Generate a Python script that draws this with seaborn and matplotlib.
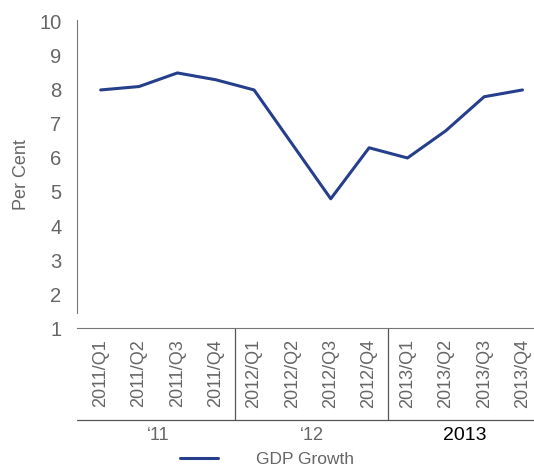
import numpy as np
import pandas as pd
import seaborn as sns
from matplotlib import pyplot as plt

quarters = ["2011/Q1", "2011/Q2", "2011/Q3", "2011/Q4",
            "2012/Q1", "2012/Q2", "2012/Q3", "2012/Q4",
            "2013/Q1", "2013/Q2", "2013/Q3", "2013/Q4"]
gdp_growth = [8.0, 8.1, 8.5, 8.3, 8.0, 6.4, 4.8, 6.3, 6.0, 6.8, 7.8, 8.0]
year_labels = ["\u201811", "\u201812", "2013"]

sns.set_style("white")
plt.rcParams['font.family'] = ['Liberation Sans', 'DejaVu Sans']

gray = "#666666"
df = pd.DataFrame({"pos": np.arange(len(quarters)), "GDP Growth": gdp_growth})

fig = plt.figure(figsize=(5.34, 4.70), dpi=100)
ax = fig.add_axes([0.144, 0.302, 0.856, 0.655])
sns.lineplot(data=df, x="pos", y="GDP Growth", color="#263f8c", linewidth=2.2,
             ax=ax, label="GDP Growth", legend=False)

ax.set_xlim(-0.62, 11.3)
ax.set_ylim(1, 10.05)
ax.set_yticks(range(1, 11))
ax.set_yticklabels([str(v) for v in range(1, 11)], fontsize=14.5, color=gray)
ax.set_xticks(df["pos"])
ax.set_xticklabels(quarters, rotation=90, fontsize=13, color=gray)
ax.tick_params(length=0, pad=8)
ax.tick_params(axis="y", pad=11)
ax.set_xlabel("")
ax.set_ylabel("Per Cent", fontsize=13, color=gray, labelpad=7)

for s in ["top", "right"]:
    ax.spines[s].set_visible(False)
ax.spines["left"].set_color("#777777")
ax.spines["bottom"].set_color("#777777")
ax.spines["left"].set_bounds(1.45, 10.05)

# category group boxes under the axis
trans = ax.get_xaxis_transform()
low = -0.299
for xs in [3.5, 7.5]:
    ax.plot([xs, xs], [0, low], transform=trans, color="#555555", lw=0.9, clip_on=False)
ax.plot([-0.62, 11.3], [low, low], transform=trans, color="#555555", lw=0.9, clip_on=False)

for i, lab in enumerate(year_labels):
    if lab == "2013":
        ax.text(1.5 + 4 * i, -0.35, lab, transform=trans, ha="center", va="center",
                fontsize=14, color="black")
    else:
        ax.text(1.5 + 4 * i, -0.35, lab, transform=trans, ha="center", va="center",
                fontsize=13, color=gray)

handles, labels = ax.get_legend_handles_labels()
leg = fig.legend(handles, labels, loc="center", bbox_to_anchor=(0.5, 0.022), frameon=False,
                 fontsize=12.5, handlelength=2.2, handletextpad=2.2)
for t in leg.get_texts():
    t.set_color(gray)

fig.savefig("out.png", dpi=100)
